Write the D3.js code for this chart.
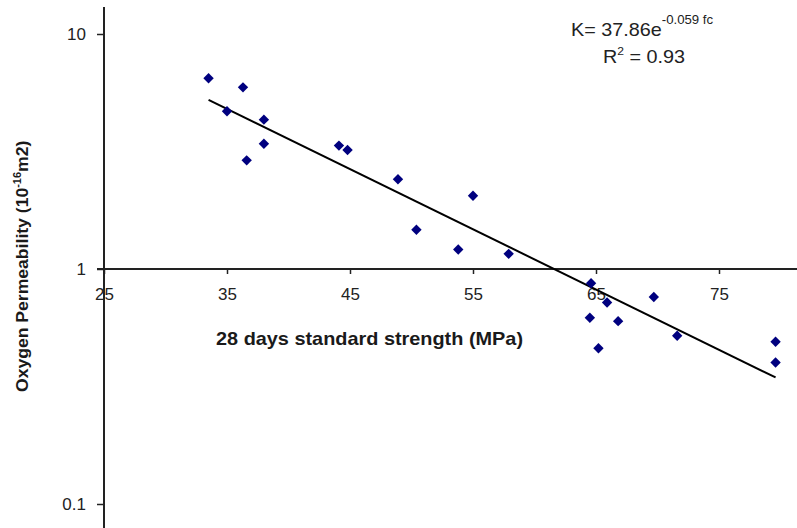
<!DOCTYPE html>
<html>
<head>
<meta charset="utf-8">
<script src="https://cdn.jsdelivr.net/npm/d3@7/dist/d3.min.js"></script>
<style>
  body { margin: 0; background: #fff; }
  svg { display: block; font-family: Arial, "Liberation Sans", sans-serif; }
</style>
</head>
<body>
<div id="chart"></div>
<script>
// 28-day strength (MPa) vs oxygen permeability (10^-16 m2)
var strength = [33.5, 36.3, 35.0, 38.0, 38.0, 36.6, 44.1, 44.8, 48.9,
                55.0, 50.4, 53.8, 57.9,
                64.6, 65.9, 69.7, 64.5, 66.8, 71.6, 65.2, 79.6, 79.6];
var permeability = [6.48, 5.93, 4.69, 4.32, 3.41, 2.90, 3.35, 3.21, 2.41,
                    2.05, 1.47, 1.21, 1.16,
                    0.87, 0.72, 0.76, 0.62, 0.60, 0.52, 0.46, 0.49, 0.40];

var xTicks = [25, 35, 45, 55, 65, 75];
var yTicks = [0.1, 1, 10];
var yTickLabels = ["0.1", "1", "10"];

// fitted trend K = a * e^(b * fc), drawn between the smallest and largest strength
var fitA = 37.86;
var fitB = -0.059;
var fitR2 = 0.93;
var fitRange = [33.5, 79.6];

var width = 797, height = 528;

var svg = d3.select("#chart")
  .append("svg")
    .attr("width", width)
    .attr("height", height);

var x = d3.scaleLinear().domain([25, 85]).range([104, 842]);
var y = d3.scaleLog().domain([0.1, 10]).range([504, 34]);

// y axis
var yAxis = svg.append("g")
  .attr("transform", "translate(104,0)")
  .call(d3.axisLeft(y)
    .tickValues(yTicks)
    .tickFormat((d, i) => yTickLabels[i])
    .tickSize(7)
    .tickSizeOuter(0)
    .tickPadding(11));
yAxis.select(".domain").remove();
yAxis.selectAll("line").attr("stroke", "#222").attr("stroke-width", 1.5);
yAxis.selectAll("text")
  .attr("font-size", 17)
  .attr("font-family", "Arial, 'Liberation Sans', sans-serif")
  .attr("fill", "#222");

svg.append("line")
  .attr("x1", 104).attr("x2", 104)
  .attr("y1", 7).attr("y2", height)
  .attr("stroke", "#222")
  .attr("stroke-width", 2);

// x axis crossing at 1
var xAxis = svg.append("g")
  .attr("transform", "translate(0," + y(1) + ")")
  .call(d3.axisBottom(x)
    .tickValues(xTicks)
    .tickSize(5)
    .tickSizeOuter(0)
    .tickPadding(14));
xAxis.select(".domain").remove();
xAxis.selectAll("line").attr("stroke", "#222").attr("stroke-width", 1.5);
xAxis.selectAll("text")
  .attr("font-size", 17)
  .attr("font-family", "Arial, 'Liberation Sans', sans-serif")
  .attr("fill", "#222");

svg.append("line")
  .attr("x1", 97).attr("x2", width)
  .attr("y1", y(1)).attr("y2", y(1))
  .attr("stroke", "#222")
  .attr("stroke-width", 2);

// trend line
var line = d3.line()
  .x(d => x(d))
  .y(d => y(fitA * Math.exp(fitB * d)));

svg.append("path")
  .datum(fitRange)
  .attr("d", line)
  .attr("fill", "none")
  .attr("stroke", "#000")
  .attr("stroke-width", 2);

// points
var diamond = d3.symbol().type(d3.symbolSquare).size(54);
svg.selectAll("path.pt")
  .data(d3.range(strength.length))
  .enter()
  .append("path")
    .attr("class", "pt")
    .attr("d", diamond)
    .attr("transform", i => "translate(" + x(strength[i]) + "," + y(permeability[i]) + ") rotate(45)")
    .attr("fill", "#00007f");

// axis titles
svg.append("text")
  .attr("x", 216)
  .attr("y", 345)
  .attr("font-size", 18.5)
  .attr("font-weight", "bold")
  .attr("fill", "#1a1a1a")
  .attr("textLength", 307)
  .attr("lengthAdjust", "spacingAndGlyphs")
  .text("28 days standard strength (MPa)");

var yt = svg.append("g")
  .attr("transform", "translate(28,392) rotate(-90) scale(1.1,1)")
  .append("text")
    .attr("font-size", 16)
    .attr("font-weight", "bold")
    .attr("fill", "#1a1a1a");
yt.append("tspan").text("Oxygen Permeability (10");
yt.append("tspan").attr("font-size", 10).attr("dy", -7).text("-16");
yt.append("tspan").attr("dy", 7).text("m2)");

// equation
var eq = svg.append("g")
  .attr("transform", "translate(571,36) scale(1.1,1)")
  .append("text")
    .attr("font-size", 18)
    .attr("fill", "#222");
eq.append("tspan").text("K= " + fitA + "e");
eq.append("tspan").attr("font-size", 12).attr("dy", -12).text(fitB.toFixed(3) + " fc");

var r2 = svg.append("g")
  .attr("transform", "translate(603,63) scale(1.1,1)")
  .append("text")
    .attr("font-size", 18)
    .attr("fill", "#222");
r2.append("tspan").text("R");
r2.append("tspan").attr("font-size", 11).attr("dy", -8).text("2");
r2.append("tspan").attr("dy", 8).text(" = " + fitR2);
</script>
</body>
</html>
